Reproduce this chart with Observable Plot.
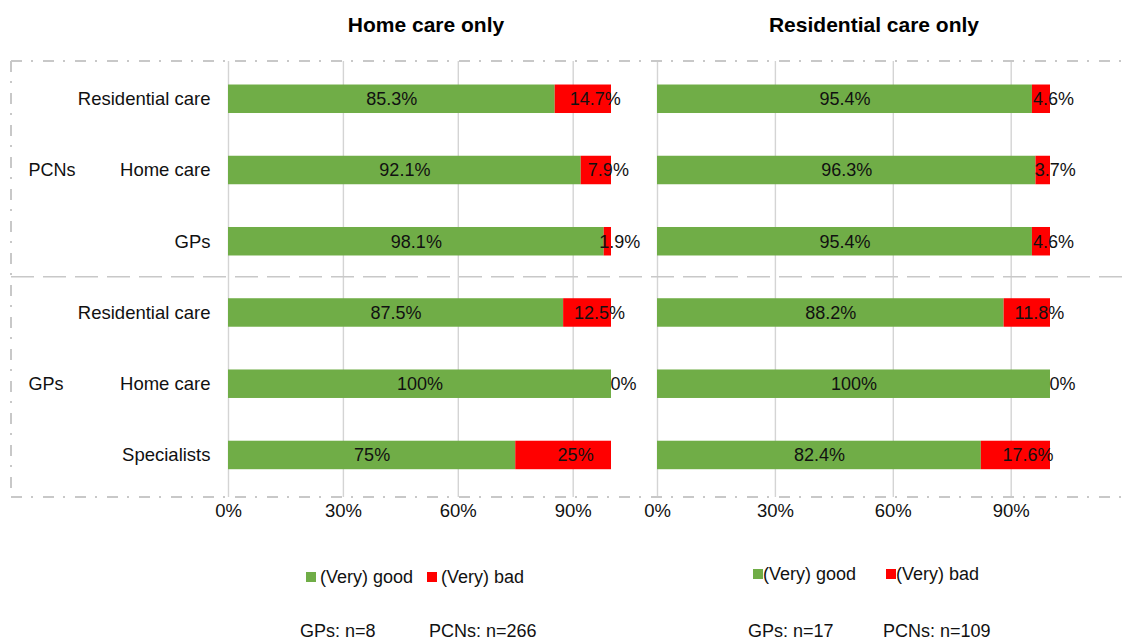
<!DOCTYPE html>
<html>
<head>
<meta charset="utf-8">
<script src="https://cdn.jsdelivr.net/npm/d3@7"></script>
<script src="https://cdn.jsdelivr.net/npm/@observablehq/plot@0.6"></script>
<style>
  body { margin: 0; background: #fff; font-family: "Liberation Sans", Arial, sans-serif; }
  #wrap { position: relative; width: 1127px; height: 643px; overflow: hidden; background: #fff; }
  #plots { position: absolute; left: 0; top: 0; display: flex; }
  #plots svg { overflow: visible; }
  #frame { position: absolute; left: 0; top: 0; pointer-events: none; }
  .legend { position: absolute; font-size: 18px; line-height: 20px; color: #111; display: flex; align-items: center; white-space: nowrap; }
  .sw { display: inline-block; width: 10px; height: 10px; }
  .foot { position: absolute; font-size: 18px; line-height: 20px; color: #111; white-space: nowrap; }
</style>
</head>
<body>
<div id="wrap">
  <div id="plots"></div>
</div>
<script>
// ---------------- data ----------------
const panelTitles = ["Home care only", "Residential care only"];
const groups = ["PCNs", "PCNs", "PCNs", "GPs", "GPs", "GPs"];
const categories = ["Residential care", "Home care", "GPs", "Residential care", "Home care", "Specialists"];
const homeGood = [85.3, 92.1, 98.1, 87.5, 100, 75];
const homeBad  = [14.7, 7.9, 1.9, 12.5, 0, 25];
const resGood  = [95.4, 96.3, 95.4, 88.2, 100, 82.4];
const resBad   = [4.6, 3.7, 4.6, 11.8, 0, 17.6];
const xTicks = [0, 30, 60, 90];
const seriesNames = ["(Very) good", "(Very) bad"];
const seriesColors = ["#70AD47", "#FF0000"];
const sampleGroups = ["GPs", "PCNs"];
const homeN = [8, 266];
const resN = [17, 109];

// ---------------- layout ----------------
const H = 540, MT = 61, MB = 43;
const yDomain = [-0.53, 5.59];
const BAR = 0.2;
const rowIdx = categories.map((_, i) => i);
const fmt = v => v + "%";

const groupNames = [...new Set(groups)];
const groupLabels = groupNames.map(g => ({
  name: g,
  y: d3.mean(rowIdx.filter(i => groups[i] === g))
}));

function panel(o) {
  const segs = rowIdx.flatMap(i => [
    {i, series: seriesNames[0], x1: 0, x2: o.good[i], v: o.good[i]},
    {i, series: seriesNames[1], x1: o.good[i], x2: o.good[i] + o.bad[i], v: o.bad[i]}
  ]);
  const marks = [
    Plot.ruleX(xTicks, {stroke: "#d4d4d4", strokeWidth: 1.4}),
    Plot.rect(segs, {x1: "x1", x2: "x2", y1: d => d.i - BAR, y2: d => d.i + BAR, fill: "series"}),
    Plot.text(segs.filter(d => d.series === seriesNames[0]), {
      x: d => (d.x1 + d.x2) / 2, y: "i", text: d => fmt(d.v), fill: "#111", fontSize: 18
    }),
    Plot.text(segs.filter(d => d.series === seriesNames[1]), {
      x: d => (d.x1 + d.x2) / 2, y: "i", text: d => fmt(d.v), dx: 12, fill: "#111", fontSize: 18
    }),
    Plot.text([o.title], {
      text: d => d, frameAnchor: "top", dy: -44, dx: o.titleDx,
      fontWeight: "bold", fontSize: 21, fill: "#000"
    })
  ];
  if (o.showGroups) {
    marks.push(Plot.text(groupLabels, {
      y: "y", text: "name", frameAnchor: "left", dx: -200, textAnchor: "start", fill: "#111", fontSize: 18
    }));
  }
  return Plot.plot({
    width: o.width,
    height: H,
    marginTop: MT,
    marginBottom: MB,
    marginLeft: o.marginLeft,
    marginRight: o.marginRight,
    style: {background: "none", overflow: "visible", color: "#111", fontSize: "18.5px",
            fontFamily: "'Liberation Sans', Arial, sans-serif"},
    x: {domain: [0, 100], ticks: xTicks, tickFormat: fmt, tickSize: 0, tickPadding: 6, label: null},
    y: {domain: yDomain, reverse: true, axis: o.showY ? "left" : null, ticks: rowIdx,
        tickFormat: i => categories[i], tickSize: 0, tickPadding: 18, label: null},
    color: {domain: seriesNames, range: seriesColors},
    marks
  });
}

const plots = document.getElementById("plots");
plots.append(panel({title: panelTitles[0], good: homeGood, bad: homeBad, width: 634,
  marginLeft: 228, marginRight: 23, showY: true, showGroups: true, titleDx: 6}));
plots.append(panel({title: panelTitles[1], good: resGood, bad: resBad, width: 493,
  marginLeft: 23, marginRight: 77, showY: false, showGroups: false, titleDx: 20}));

// ---------------- frame (dash-dot border and group separator) ----------------
const ys = d3.scaleLinear(yDomain, [MT, H - MB]);
const splitAt = rowIdx.find(i => i > 0 && groups[i] !== groups[i - 1]) - 0.5;
const svg = d3.select("#wrap").append("svg").attr("id", "frame").attr("width", 1127).attr("height", 643);
const x0 = 11, x1 = 1127;
const border = svg.append("g").attr("stroke", "#c8c8c8").attr("stroke-width", 2)
  .attr("stroke-dasharray", "11 9 2 10").attr("fill", "none");
border.append("line").attr("x1", x0).attr("x2", x1).attr("y1", ys(yDomain[0])).attr("y2", ys(yDomain[0]));
border.append("line").attr("x1", x0).attr("x2", x1).attr("y1", ys(yDomain[1])).attr("y2", ys(yDomain[1]));
border.append("line").attr("x1", x0).attr("x2", x0).attr("y1", ys(yDomain[0])).attr("y2", ys(yDomain[1]));
svg.append("line").attr("x1", x0).attr("x2", x1).attr("y1", ys(splitAt)).attr("y2", ys(splitAt))
  .attr("stroke", "#c8c8c8").attr("stroke-width", 1.5).attr("stroke-dasharray", "23 9");

// ---------------- legends and sample sizes ----------------
const wrap = document.getElementById("wrap");
function legend(left, top, swGap, itemGap) {
  const div = document.createElement("div");
  div.className = "legend";
  div.style.left = left + "px";
  div.style.top = top + "px";
  seriesNames.forEach((name, k) => {
    const sw = document.createElement("span");
    sw.className = "sw";
    sw.style.background = seriesColors[k];
    if (k > 0) sw.style.marginLeft = itemGap + "px";
    const t = document.createElement("span");
    t.textContent = name;
    t.style.marginLeft = swGap + "px";
    div.append(sw, t);
  });
  wrap.append(div);
}
legend(306, 567, 4, 14);
legend(753, 564, 0, 30);

function foot(lefts, top, ns) {
  sampleGroups.forEach((g, k) => {
    const d = document.createElement("div");
    d.className = "foot";
    d.style.left = lefts[k] + "px";
    d.style.top = top + "px";
    d.textContent = g + ": n=" + ns[k];
    wrap.append(d);
  });
}
foot([300, 429], 621, homeN);
foot([748, 883], 621, resN);
</script>
</body>
</html>
